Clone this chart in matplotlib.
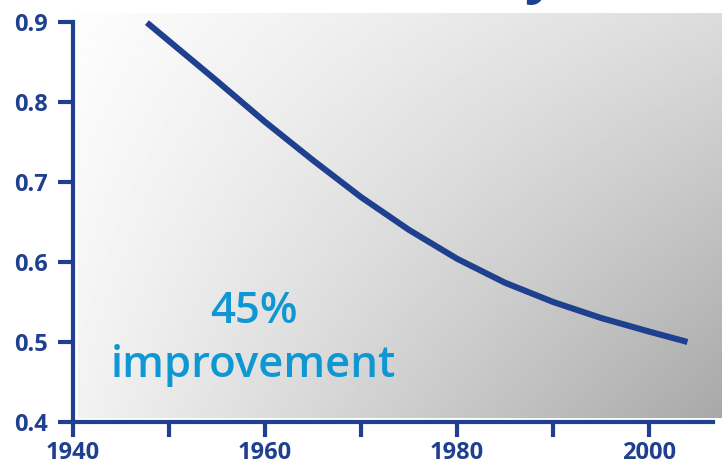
import matplotlib.pyplot as plt
import numpy as np

plt.rcParams['font.family'] = ['Open Sans', 'DejaVu Sans']

navy = '#1f3f8f'
cyan = '#0e97d3'

years = [1947.7, 1950, 1955, 1960, 1965, 1970, 1975, 1980, 1985, 1990, 1995, 2000, 2004]
ratio = [0.899, 0.876, 0.826, 0.775, 0.727, 0.681, 0.640, 0.604, 0.574, 0.550, 0.530, 0.513, 0.500]

major_years = [1940, 1960, 1980, 2000]
minor_years = [1950, 1970, 1990]
y_ticks = [0.4, 0.5, 0.6, 0.7, 0.8, 0.9]

fig = plt.figure(figsize=(7.22, 4.68), dpi=100)
ax = fig.add_axes([73 / 722, 46 / 468, 649 / 722, 409 / 468])
ax.set_xlim(1940, 2007.6)
ax.set_ylim(0.4, 0.911)

# grey shading, light in the upper left and darker towards the lower right
gx = np.linspace(0, 1, 300)
gy = np.linspace(0, 1, 200)
X, Y = np.meshgrid(gx, gy)
tl, tr, bl, br = 253, 220, 242, 168
shade = (tl * (1 - X) * (1 - Y) + tr * X * (1 - Y) + bl * (1 - X) * Y + br * X * Y) / 255
ax.imshow(shade, cmap='gray', vmin=0, vmax=1, aspect='auto',
          extent=(1940.5, 2007.6, 0.405, 0.911), origin='upper', zorder=0)

ax.plot(years, ratio, color=navy, lw=4.4, solid_capstyle='butt', zorder=3)

ax.text(1958.8, 0.524, '45%', color=cyan, fontsize=31.5, fontweight='semibold',
        ha='center', va='baseline')
ax.text(1958.8, 0.456, 'improvement', color=cyan, fontsize=31.5, fontweight='semibold',
        ha='center', va='baseline')

for s in ['top', 'right']:
    ax.spines[s].set_visible(False)
ax.spines['left'].set_bounds(0.4, 0.9)
ax.spines['bottom'].set_bounds(1940, 2006.7)
for s in ['left', 'bottom']:
    ax.spines[s].set_color(navy)
    ax.spines[s].set_linewidth(3)
    ax.spines[s].set_zorder(4)

ax.set_yticks(y_ticks)
ax.set_yticklabels([f'{v:.1f}' for v in y_ticks])
ax.set_xticks(major_years)
ax.set_xticklabels([str(y) for y in major_years])
ax.set_xticks(minor_years, minor=True)
ax.tick_params(axis='both', which='both', direction='out', length=11, width=3,
               color=navy, labelcolor=navy, labelsize=17)
ax.tick_params(axis='y', pad=7)
ax.tick_params(axis='x', pad=3)
for lbl in ax.get_xticklabels() + ax.get_yticklabels():
    lbl.set_fontweight('bold')

# tail of the heading that sits above the chart
fig.text(540 / 722, 1.0 + 8 / 468, 'y', color=navy, fontsize=40, fontweight='bold',
         ha='center', va='baseline')

fig.savefig('out.png', dpi=100)
